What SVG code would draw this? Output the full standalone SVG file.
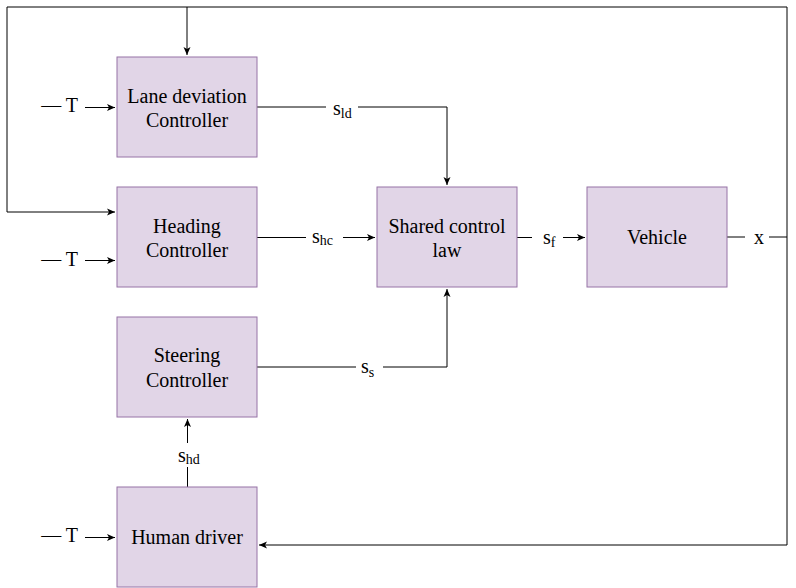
<svg xmlns="http://www.w3.org/2000/svg" width="796" height="588" viewBox="0 0 796 588">
<style>
.box{fill:#e1d5e7;stroke:#9673a6;stroke-width:1}
.lbl{font-family:"Liberation Serif","Times New Roman",serif;font-size:20px;fill:#000}
.c{font-family:"Liberation Serif","Times New Roman",serif;font-size:20px;fill:#000;text-anchor:middle}
.sub{font-size:14px}
.ln{fill:none;stroke:#000;stroke-width:1}
.bg{fill:#fff}
</style>
<defs>
<marker id="ah" markerUnits="userSpaceOnUse" markerWidth="9" markerHeight="9" refX="8" refY="4" orient="auto">
<path d="M0,0.5 L8,4 L0,7.5 L2,4 Z" fill="#000"/>
</marker>
</defs>
<rect width="796" height="588" fill="#fff"/>
<g id="connectors">
<path class="ln" d="M787,237 L787,7 L7,7 L7,212 L115,212" marker-end="url(#ah)"/>
<path class="ln" d="M187,7 L187,55" marker-end="url(#ah)"/>
<path class="ln" d="M727,237 L787,237 L787,545 L259,545" marker-end="url(#ah)"/>
<path class="ln" d="M257,107 L447,107 L447,185" marker-end="url(#ah)"/>
<path class="ln" d="M257,367 L447,367 L447,289" marker-end="url(#ah)"/>
<path class="ln" d="M257,237.5 L375,237.5" marker-end="url(#ah)"/>
<path class="ln" d="M517,237.5 L585,237.5" marker-end="url(#ah)"/>
<path class="ln" d="M187.5,487 L187.5,419" marker-end="url(#ah)"/>
<path class="ln" d="M85,107.5 L115,107.5" marker-end="url(#ah)"/>
<path class="ln" d="M85,260.5 L115,260.5" marker-end="url(#ah)"/>
<path class="ln" d="M85,537.5 L115,537.5" marker-end="url(#ah)"/>
<rect class="bg" x="326" y="98" width="32" height="22"/>
<text class="lbl" x="333" y="115">s<tspan class="sub" dy="3">ld</tspan></text>
<rect class="bg" x="306" y="228" width="37" height="20"/>
<text class="lbl" x="312" y="243">s<tspan class="sub" dy="2">hc</tspan></text>
<rect class="bg" x="532" y="228" width="31" height="20"/>
<text class="lbl" x="543" y="244">s<tspan class="sub" dy="3">f</tspan></text>
<rect class="bg" x="745" y="228" width="24" height="20"/>
<text class="lbl" x="754" y="244">x</text>
<rect class="bg" x="356" y="358" width="27" height="20"/>
<text class="lbl" x="361" y="373">s<tspan class="sub" dy="4">s</tspan></text>
<rect class="bg" x="175" y="443" width="30" height="24"/>
<text class="lbl" x="178" y="462">s<tspan class="sub" dy="2">hd</tspan></text>
<text class="lbl" x="78" y="112" text-anchor="end">— T</text>
<text class="lbl" x="78" y="266" text-anchor="end">— T</text>
<text class="lbl" x="78" y="542" text-anchor="end">— T</text>
</g>
<g id="lane">
<rect class="box" x="117" y="57" width="140" height="100"/>
<text class="c" x="187" y="103">Lane deviation</text>
<text class="c" x="187" y="127">Controller</text>
</g>
<g id="heading">
<rect class="box" x="117" y="187" width="140" height="100"/>
<text class="c" x="187" y="233">Heading</text>
<text class="c" x="187" y="257">Controller</text>
</g>
<g id="steering">
<rect class="box" x="117" y="317" width="140" height="100"/>
<text class="c" x="187" y="362">Steering</text>
<text class="c" x="187" y="387">Controller</text>
</g>
<g id="human">
<rect class="box" x="117" y="487" width="140" height="100"/>
<text class="c" x="187" y="544">Human driver</text>
</g>
<g id="shared">
<rect class="box" x="377" y="187" width="140" height="100"/>
<text class="c" x="447" y="233">Shared control</text>
<text class="c" x="447" y="257">law</text>
</g>
<g id="vehicle">
<rect class="box" x="587" y="187" width="140" height="100"/>
<text class="c" x="657" y="244">Vehicle</text>
</g>
</svg>
